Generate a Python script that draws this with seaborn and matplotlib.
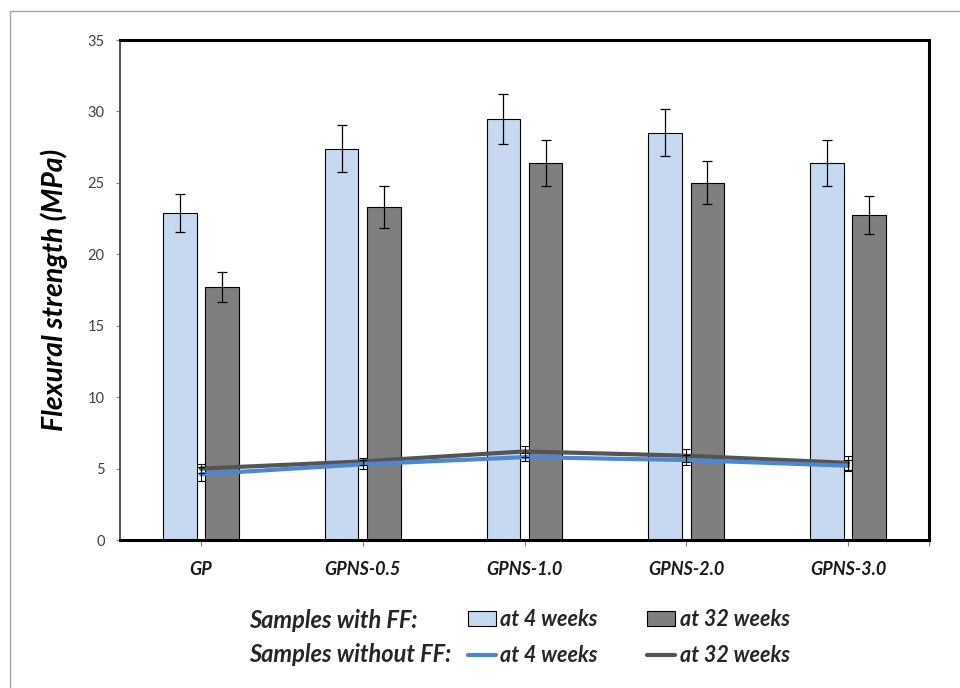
import numpy as np
import pandas as pd
import matplotlib
matplotlib.use("Agg")
import matplotlib.pyplot as plt
import seaborn as sns
from matplotlib.patches import Rectangle, Patch
from matplotlib.lines import Line2D

categories = ["GP", "GPNS-0.5", "GPNS-1.0", "GPNS-2.0", "GPNS-3.0"]
ff_4w = [22.9, 27.4, 29.5, 28.5, 26.4]
ff_4w_err = [1.35, 1.65, 1.75, 1.65, 1.6]
ff_32w = [17.7, 23.3, 26.4, 25.0, 22.75]
ff_32w_err = [1.05, 1.45, 1.6, 1.5, 1.35]
noff_4w = [4.6, 5.3, 5.8, 5.6, 5.2]
noff_4w_err = [0.5, 0.3, 0.3, 0.35, 0.4]
noff_32w = [5.0, 5.5, 6.2, 5.9, 5.4]
noff_32w_err = [0.3, 0.25, 0.4, 0.45, 0.5]
y_ticks = [0, 5, 10, 15, 20, 25, 30, 35]
ages = ["at 4 weeks", "at 32 weeks"]

LIGHT = "#c6d9f0"
DARK = "#7f7f7f"
BLUE = "#4a88d4"
GREYLINE = "#545454"

sns.set_theme(style="white")
plt.rcParams["font.family"] = ["Lato", "DejaVu Sans"]

df = pd.DataFrame({
    "Sample": categories * 2,
    "Age": [ages[0]] * 5 + [ages[1]] * 5,
    "Value": ff_4w + ff_32w,
})

fig = plt.figure(figsize=(9.6, 6.88), dpi=100)
ax = fig.add_axes([120 / 960, 1 - 540 / 688, (929 - 120) / 960, 500 / 688])

sns.barplot(data=df, x="Sample", y="Value", hue="Age", palette=[LIGHT, DARK],
            width=0.52, gap=0.2, saturation=1, edgecolor="black", linewidth=0.8,
            errorbar=None, legend=False, ax=ax, zorder=2)

# error bars on bars
patches = sorted(ax.patches, key=lambda p: p.get_x())
vals = []
errs = []
for i in range(len(categories)):
    vals += [ff_4w[i], ff_32w[i]]
    errs += [ff_4w_err[i], ff_32w_err[i]]
xs = [p.get_x() + p.get_width() / 2 for p in patches]
ax.errorbar(xs, vals, yerr=errs, fmt="none", ecolor="black", elinewidth=0.9,
            capsize=3.5, capthick=0.9, zorder=3)

xpos = np.arange(len(categories))
sns.lineplot(x=xpos, y=noff_32w, color=GREYLINE, lw=3, ax=ax, zorder=4)
sns.lineplot(x=xpos, y=noff_4w, color=BLUE, lw=3, ax=ax, zorder=4)
ax.errorbar(xpos, noff_32w, yerr=noff_32w_err, fmt="none", ecolor="black",
            elinewidth=0.8, capsize=3, capthick=0.8, zorder=5)
ax.errorbar(xpos, noff_4w, yerr=noff_4w_err, fmt="none", ecolor="black",
            elinewidth=0.8, capsize=3, capthick=0.8, zorder=5)

ax.set_xlim(-0.5, len(categories) - 0.5)
ax.set_ylim(0, 35)
ax.set_yticks(y_ticks)
ax.set_yticklabels([str(t) for t in y_ticks], fontsize=10.5, color="#404040")
ax.set_xticks(xpos)
ax.set_xticklabels(categories, fontsize=13, fontweight="bold", fontstyle="italic",
                   color="#1a1a1a")
ax.set_xticks([len(categories) - 0.5], minor=True)
ax.tick_params(axis="y", which="both", left=True, length=3, width=0.8, color="#808080", pad=8)
ax.tick_params(axis="x", which="both", bottom=True, length=4, width=0.8, color="#808080", pad=11)
ax.set_xlabel("")
ax.set_ylabel("Flexural strength (MPa)", fontsize=20.5, fontweight="bold",
              fontstyle="italic", color="black", labelpad=14)

for s in ["top", "right", "bottom"]:
    ax.spines[s].set_linewidth(2.2)
    ax.spines[s].set_color("black")
ax.spines["left"].set_linewidth(1.4)
ax.spines["left"].set_color("#505050")

# legend
fig.text(249 / 960, 1 - 620 / 688, "Samples with FF:", fontsize=17, fontweight="bold",
         fontstyle="italic", va="center", ha="left")
fig.text(249 / 960, 1 - 655 / 688, "Samples without FF:", fontsize=17, fontweight="bold",
         fontstyle="italic", va="center", ha="left")
handles = [
    Patch(facecolor=LIGHT, edgecolor="black", linewidth=0.8),
    Line2D([], [], color=BLUE, lw=3),
    Patch(facecolor=DARK, edgecolor="black", linewidth=0.8),
    Line2D([], [], color=GREYLINE, lw=3),
]
labels = ["at 4 weeks", "at 4 weeks", "at 32 weeks", "at 32 weeks"]
leg = fig.legend(handles, labels, ncol=2, loc="center left",
                 bbox_to_anchor=(468 / 960, 1 - 637.5 / 688), frameon=False,
                 borderpad=0, borderaxespad=0, handlelength=1.3, handleheight=0.65,
                 handletextpad=0.2, columnspacing=2.3, labelspacing=0.7,
                 prop={"size": 15.5, "weight": "bold", "style": "italic"})

fig.patches.append(Rectangle((10 / 960, -0.05), 1.2, 1.05 - 11 / 688,
                             transform=fig.transFigure, fill=False,
                             edgecolor="#a6a6a6", linewidth=1.0))

fig.savefig("out.png", dpi=100)
